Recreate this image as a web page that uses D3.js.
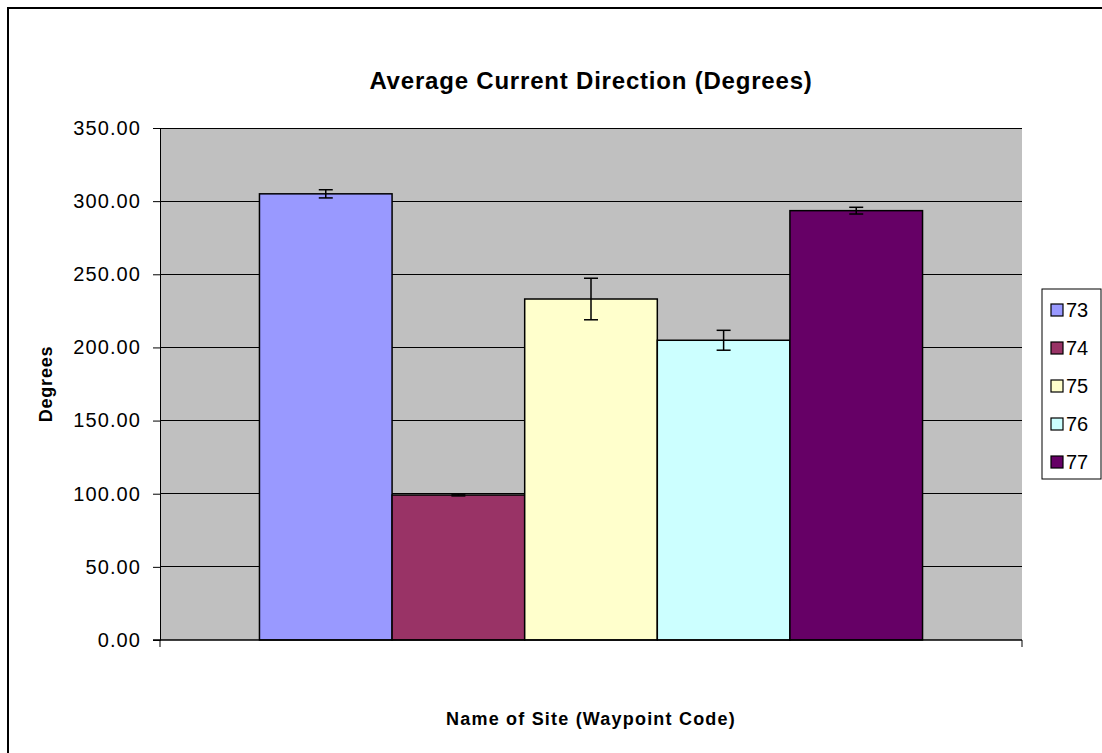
<!DOCTYPE html>
<html>
<head>
<meta charset="utf-8">
<script src="https://cdn.jsdelivr.net/npm/d3@7"></script>
<style>
  body { margin: 0; background: #fff; }
  svg { display: block; font-family: "Liberation Sans", Arial, sans-serif; }
</style>
</head>
<body>
<svg id="chart" width="1102" height="753"></svg>
<script>
const sites = ['73', '74', '75', '76', '77']
const degrees = [305.0, 99.1, 233.1, 204.9, 293.5]
const errors = [2.8, 0.6, 14.2, 6.8, 2.3]
const colors = ['#9999FF', '#993366', '#FFFFCC', '#CCFFFF', '#660066']
const yTicks = [0, 50, 100, 150, 200, 250, 300, 350]

const plot = { left: 160, top: 128, right: 1022, bottom: 640 }

const svg = d3.select('#chart')

// outer chart border (runs off the right/bottom edge)
svg.append('rect')
    .attr('x', 8).attr('y', 8)
    .attr('width', 1110).attr('height', 760)
    .attr('fill', '#fff')
    .attr('stroke', '#000')
    .attr('stroke-width', 2)

const y = d3.scaleLinear().domain([0, 350]).range([plot.bottom, plot.top])
const x = d3.scaleBand().domain(sites)
    .range([plot.left, plot.right])
    .paddingInner(0)
    .paddingOuter(0.75)

svg.append('rect')
    .attr('x', plot.left).attr('y', plot.top)
    .attr('width', plot.right - plot.left)
    .attr('height', plot.bottom - plot.top)
    .attr('fill', '#C0C0C0')

// gridlines
svg.append('g')
    .selectAll('line')
    .data(yTicks.filter(t => t > 0))
    .join('line')
    .attr('x1', plot.left).attr('x2', plot.right)
    .attr('y1', d => y(d)).attr('y2', d => y(d))
    .attr('stroke', '#000')
    .attr('stroke-width', 1)
    .attr('shape-rendering', 'crispEdges')

// y axis
const yAxis = svg.append('g')
    .attr('transform', `translate(${plot.left},0)`)
    .call(d3.axisLeft(y).tickValues(yTicks).tickFormat(d3.format('.2f')).tickSize(7).tickPadding(12))
yAxis.select('.domain').attr('stroke', '#000')
yAxis.selectAll('line').attr('stroke', '#000')
yAxis.selectAll('text')
    .attr('font-size', 20)
    .attr('letter-spacing', 1.1)
    .attr('font-family', '"Liberation Sans", Arial, sans-serif')
    .attr('fill', '#000')

// bars
svg.append('g')
    .selectAll('rect')
    .data(sites)
    .join('rect')
    .attr('x', d => x(d))
    .attr('y', (d, i) => y(degrees[i]))
    .attr('width', x.bandwidth())
    .attr('height', (d, i) => y(0) - y(degrees[i]))
    .attr('fill', (d, i) => colors[i])
    .attr('stroke', '#000')
    .attr('stroke-width', 1.5)

// error bars
const eb = svg.append('g')
    .selectAll('g')
    .data(sites)
    .join('g')
    .attr('stroke', '#000')
    .attr('stroke-width', 1.5)
const cx = d => x(d) + x.bandwidth() / 2
eb.append('line')
    .attr('x1', cx).attr('x2', cx)
    .attr('y1', (d, i) => y(degrees[i] + errors[i]))
    .attr('y2', (d, i) => y(degrees[i] - errors[i]))
eb.append('line')
    .attr('x1', d => cx(d) - 7).attr('x2', d => cx(d) + 7)
    .attr('y1', (d, i) => y(degrees[i] + errors[i]))
    .attr('y2', (d, i) => y(degrees[i] + errors[i]))
eb.append('line')
    .attr('x1', d => cx(d) - 7).attr('x2', d => cx(d) + 7)
    .attr('y1', (d, i) => y(degrees[i] - errors[i]))
    .attr('y2', (d, i) => y(degrees[i] - errors[i]))

// x axis with category boundary ticks
svg.append('line')
    .attr('x1', plot.left - 7).attr('x2', plot.right)
    .attr('y1', plot.bottom).attr('y2', plot.bottom)
    .attr('stroke', '#000').attr('stroke-width', 1.5)
svg.append('g')
    .selectAll('line')
    .data([plot.left, plot.right])
    .join('line')
    .attr('x1', d => d).attr('x2', d => d)
    .attr('y1', plot.bottom).attr('y2', plot.bottom + 7)
    .attr('stroke', '#000')

// titles
const midX = (plot.left + plot.right) / 2
svg.append('text')
    .attr('x', midX).attr('y', 89)
    .attr('text-anchor', 'middle')
    .attr('font-size', 24).attr('font-weight', 'bold')
    .attr('letter-spacing', 0.8)
    .text('Average Current Direction (Degrees)')

svg.append('text')
    .attr('x', midX).attr('y', 725)
    .attr('text-anchor', 'middle')
    .attr('font-size', 18).attr('font-weight', 'bold')
    .attr('letter-spacing', 1.2)
    .text('Name of Site (Waypoint Code)')

svg.append('text')
    .attr('transform', `translate(52,${(plot.top + plot.bottom) / 2}) rotate(-90)`)
    .attr('text-anchor', 'middle')
    .attr('font-size', 18).attr('font-weight', 'bold')
    .attr('letter-spacing', 0.8)
    .text('Degrees')

// legend
svg.append('rect')
    .attr('x', 1042).attr('y', 289)
    .attr('width', 59).attr('height', 190)
    .attr('fill', '#fff')
    .attr('stroke', '#000').attr('stroke-width', 1)
const item = svg.append('g')
    .selectAll('g')
    .data(sites)
    .join('g')
    .attr('transform', (d, i) => `translate(1051,${310 + i * 38})`)
item.append('rect')
    .attr('x', 0).attr('y', -6)
    .attr('width', 12).attr('height', 12)
    .attr('fill', (d, i) => colors[i])
    .attr('stroke', '#000').attr('stroke-width', 1.2)
item.append('text')
    .attr('x', 15).attr('y', 7)
    .attr('font-size', 20)
    .text(d => d)
</script>
</body>
</html>
